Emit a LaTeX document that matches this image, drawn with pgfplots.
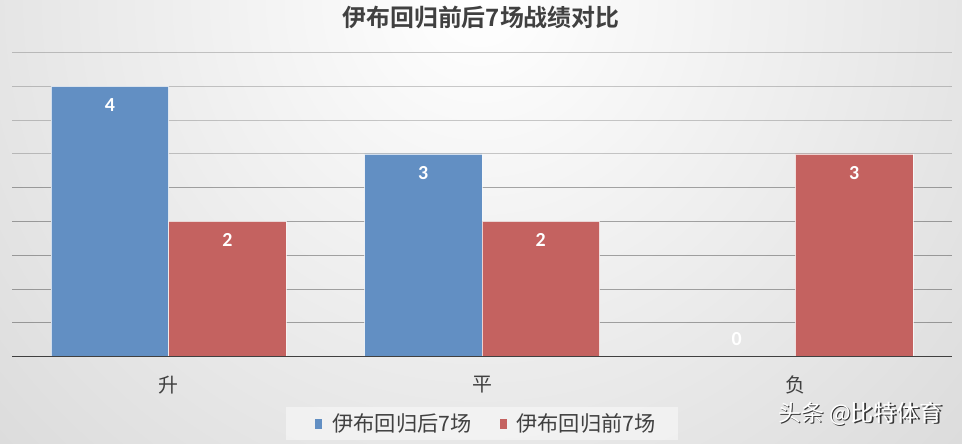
\documentclass[border=0pt]{standalone}
\usepackage{pgfplots}
\pgfplotsset{compat=1.18}
\usepackage{fontspec}
\setmainfont{Carlito}
\newfontfamily\cjk[BoldFont={Noto Sans CJK SC Bold}]{Noto Sans CJK SC}
\newfontfamily\numfont{Carlito}

\definecolor{cblue}{HTML}{628FC3}
\definecolor{cred}{HTML}{C46260}
\definecolor{ctext}{HTML}{404040}
\definecolor{bggray}{HTML}{B4B4B4}
\pgfdeclareradialshading{bgshade}{\pgfpoint{0bp}{0bp}}{color(0bp)=(white); color(50bp)=(bggray)}

\begin{document}
\begin{tikzpicture}
  \useasboundingbox (0,0) rectangle (962bp,444bp);
  \begin{scope}
    \clip (0,0) rectangle (962bp,444bp);
    \shade[shading=bgshade] (480bp,444bp) circle (700bp);
  \end{scope}

  \node[font=\cjk\bfseries\fontsize{24}{28}\selectfont, text=ctext] at (481bp,426bp) {伊布回归前后7场战绩对比};

  \begin{axis}[
    at={(12bp,87.3bp)}, anchor=south west,
    scale only axis, width=940bp, height=304.2bp,
    xmin=-0.5, xmax=2.5, ymin=0, ymax=4.5,
    ybar=0pt, bar width=117.5bp,
    axis line style={draw=none},
    xtick={0,1,2}, xticklabels={升,平,负},
    xticklabel style={font=\cjk\fontsize{20}{24}\selectfont, text=ctext, anchor=center, yshift=-28bp},
    ytick={3,3.5,4,4.5}, yticklabels={},
    extra y ticks={0.5,1,1.5,2,2.5}, extra y tick labels={},
    extra y tick style={major grid style={draw=black, draw opacity=0.33, line width=0.8bp}},
    major tick length=0pt,
    ymajorgrids=true,
    major grid style={draw=black, draw opacity=0.2, line width=0.8bp},
    /pgf/number format/assume math mode=true,
    nodes near coords,
    visualization depends on={rawy \as \rawy},
    every node near coord/.append style={font=\numfont\bfseries\fontsize{20}{24}\selectfont, text=white, anchor=center, yshift={ifthenelse(\rawy==0,18,-19)}},
    legend style={at={(0.5,-0.2196)}, anchor=center, fill=white, fill opacity=0.45, text opacity=1, draw=none,
      font=\cjk\fontsize{21.3}{25}\selectfont, text=ctext, inner xsep=20bp, inner ysep=5bp,
      /tikz/every odd column/.append style={column sep=8bp},
      /tikz/every even column/.append style={column sep=17bp}},
    legend columns=2,
    legend image code/.code={\path[fill=none, draw=none] (0bp,-5bp) rectangle (16bp,5bp);
      \fill[#1, draw=none, fill opacity=1] (9bp,-5bp) rectangle (16bp,5bp);},
  ]
    \addplot[fill=cblue, draw=white, draw opacity=0.7, line width=0.6bp]
      coordinates {(0,4) (1,3) (2,0)};
    \addlegendentry{伊布回归后7场}
    \addplot[fill=cred, draw=white, draw opacity=0.7, line width=0.6bp]
      coordinates {(0,2) (1,2) (2,3)};
    \addlegendentry{伊布回归前7场}
    \draw[ctext, line width=2bp] (axis cs:-0.5,0) -- (axis cs:2.5,0);
  \end{axis}

  \node[font=\cjk\fontsize{23}{27}\selectfont, text=black, opacity=0.75] at (861.8bp,28.8bp) {头条 @比特体育};
  \node[font=\cjk\fontsize{23}{27}\selectfont, text=white] at (860.5bp,30bp) {头条 @比特体育};
\end{tikzpicture}
\end{document}
